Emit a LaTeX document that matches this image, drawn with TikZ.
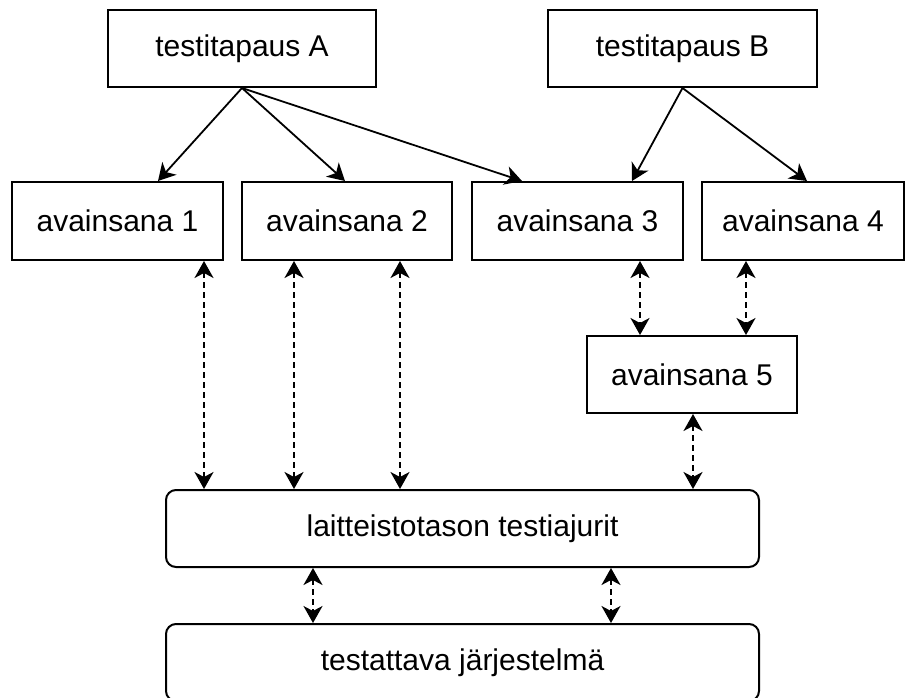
\documentclass[tikz,border=0pt]{standalone}
\usepackage{fontspec}
\setmainfont{Liberation Sans}
\usetikzlibrary{arrows.meta}

\tikzset{
  box/.style={draw=black, line width=2pt, fill=white, inner sep=0pt,
              font=\fontsize{30}{36}\selectfont, text=black},
  keybox/.style={box, minimum width=211, minimum height=78},
  topbox/.style={box, minimum width=269, minimum height=77},
  layerbox/.style={box, rounded corners=10pt, minimum width=593, minimum height=77},
  uses/.style={line width=1.8pt, -{Stealth[length=17pt, width=19pt, inset=5pt]}},
  calls/.style={line width=1.8pt, dash pattern=on 6pt off 4pt,
                {Stealth[length=17pt, width=19pt, inset=5pt]}-{Stealth[length=17pt, width=19pt, inset=5pt]}}
}

\begin{document}
\begin{tikzpicture}[x=1pt, y=-1pt]
  \useasboundingbox (0,0) rectangle (905,697);
  \clip (0,0) rectangle (905,697);
  \fill[white] (0,0) rectangle (905,697);

  % test cases
  \node[topbox, minimum width=268] (A) at (242,48.5) {testitapaus A};
  \node[topbox] (B) at (682.5,48.5) {testitapaus B};

  % keywords
  \node[keybox] (k1) at (117.5,221) {avainsana 1};
  \node[keybox, minimum width=210] (k2) at (347,221) {avainsana 2};
  \node[keybox] (k3) at (577.5,221) {avainsana 3};
  \node[keybox, minimum width=202] (k4) at (803,221) {avainsana 4};
  \node[keybox, minimum width=210, minimum height=77] (k5) at (692,374.5) {avainsana 5};

  % layers
  \node[layerbox] (drv) at (462.5,528.5) {laitteistotason testiajurit};
  \node[layerbox] (sut) at (462.5,662.5) {testattava järjestelmä};

  % test cases use keywords
  \draw[uses] (A.south) -- ([xshift=40.5]k1.north);
  \draw[uses] (A.south) -- ([xshift=-2]k2.north);
  \draw[uses] (A.south) -- ([xshift=-55.5]k3.north);
  \draw[uses] (B.south) -- ([xshift=54.5]k3.north);
  \draw[uses] (B.south) -- ([xshift=4]k4.north);

  % keyword calls
  \draw[calls] ([xshift=86.5]k1.south) -- ([xshift=-258.5]drv.north);
  \draw[calls] ([xshift=-53]k2.south) -- ([xshift=-168.5]drv.north);
  \draw[calls] ([xshift=53]k2.south) -- ([xshift=-62.5]drv.north);
  \draw[calls] ([xshift=62.5]k3.south) -- ([xshift=-52]k5.north);
  \draw[calls] ([xshift=-57]k4.south) -- ([xshift=54]k5.north);
  \draw[calls] ([xshift=1]k5.south) -- ([xshift=230.5]drv.north);

  % drivers talk to the system under test
  \draw[calls] ([xshift=-149.5]drv.south) -- ([xshift=-149.5]sut.north);
  \draw[calls] ([xshift=148.5]drv.south) -- ([xshift=148.5]sut.north);
\end{tikzpicture}
\end{document}
